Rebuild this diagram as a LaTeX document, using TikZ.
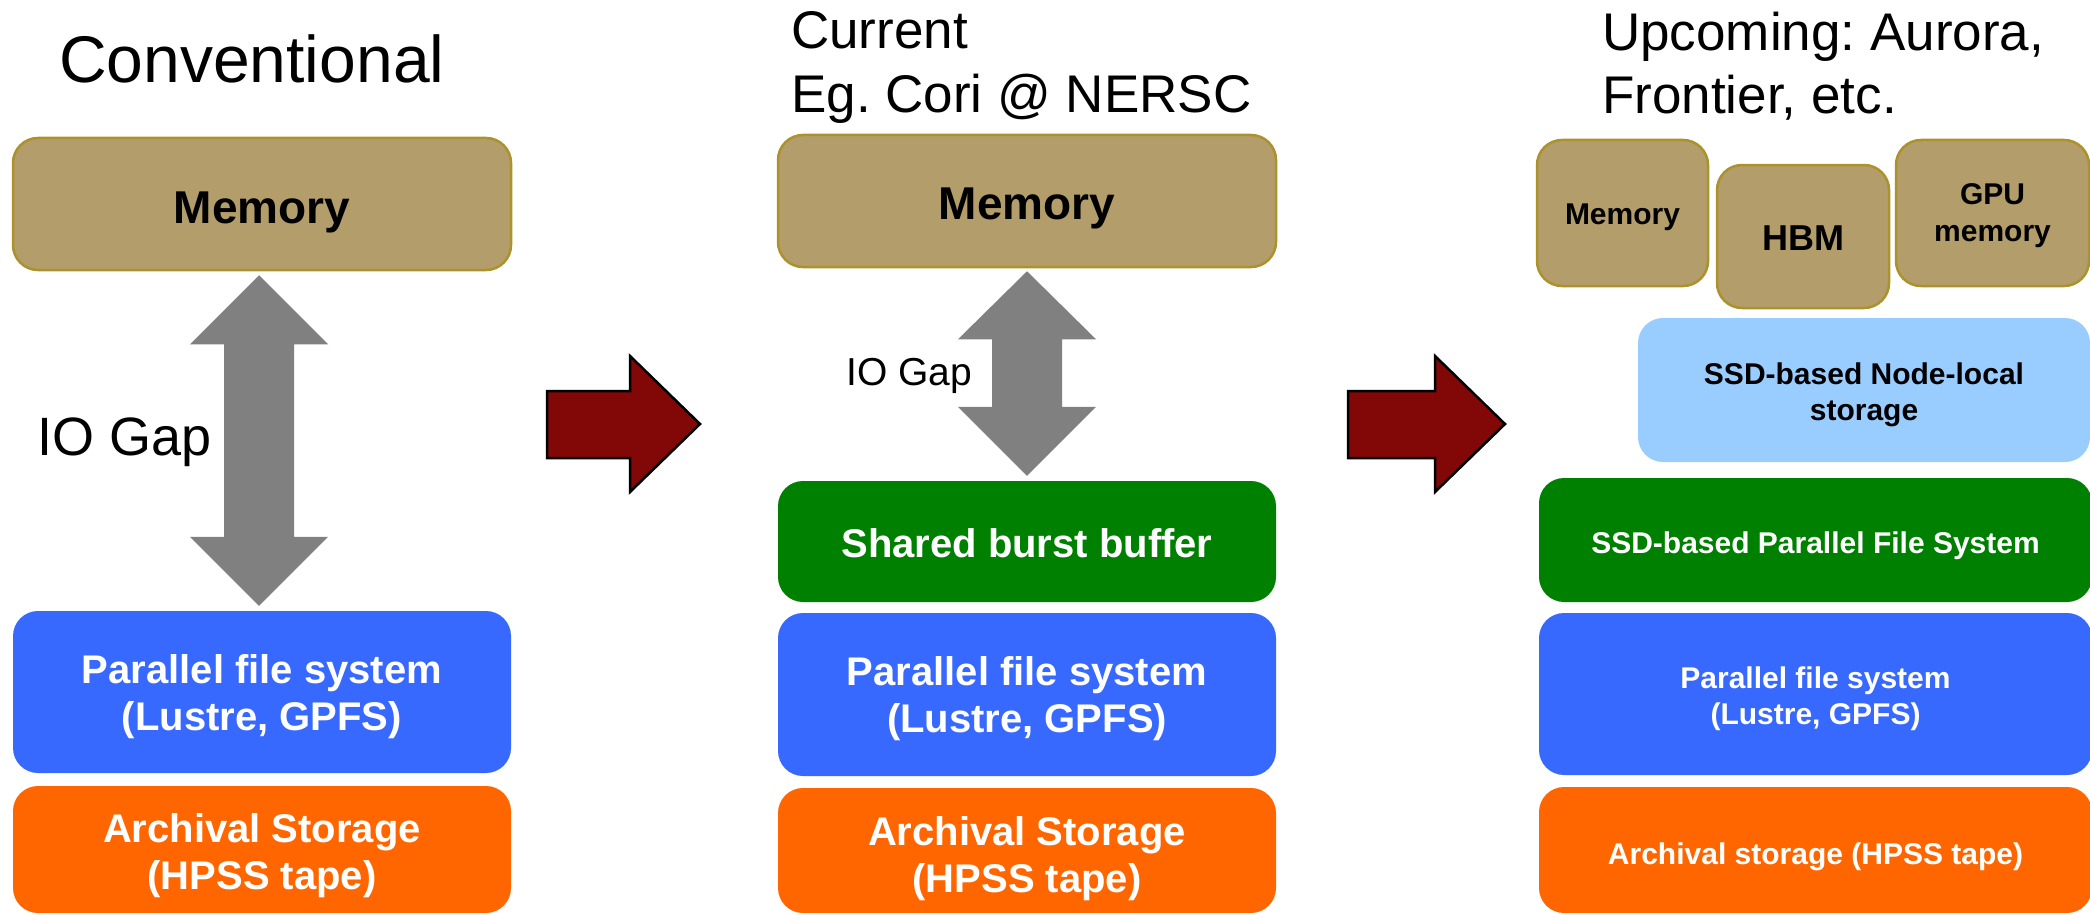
\documentclass[tikz,border=0pt]{standalone}
\usepackage{fontspec}
\setmainfont{Liberation Sans}
\usetikzlibrary{calc}
\frenchspacing

\definecolor{memfill}{RGB}{179,158,107}
\definecolor{memline}{RGB}{172,146,44}
\definecolor{bbgreen}{RGB}{0,128,0}
\definecolor{pfsblue}{RGB}{56,105,255}
\definecolor{tapeorange}{RGB}{255,102,0}
\definecolor{nodelocal}{RGB}{153,204,255}
\definecolor{gapgray}{RGB}{128,128,128}
\definecolor{stepred}{RGB}{130,8,8}

\begin{document}
\begin{tikzpicture}[x=1pt,y=-1pt,
  tier/.style={rectangle, rounded corners=25pt, inner sep=0pt, minimum width=498pt},
  memtier/.style={tier, fill=memfill, draw=memline, line width=2.5pt},
  bbtier/.style={tier, fill=bbgreen},
  pfstier/.style={tier, fill=pfsblue},
  tapetier/.style={tier, fill=tapeorange},
  nltier/.style={tier, fill=nodelocal},
  wlbl/.style={inner sep=0pt, align=center, text=white, font=\bfseries\fontsize{40}{47}\selectfont},
  wsmall/.style={inner sep=0pt, align=center, text=white, font=\bfseries\fontsize{30}{36}\selectfont},
  dsmall/.style={inner sep=0pt, align=center, text=black, font=\bfseries\fontsize{30}{36}\selectfont},
  memlbl/.style={inner sep=0pt, text=black, font=\bfseries\fontsize{46}{52}\selectfont, anchor=base},
  heading/.style={inner sep=0pt, align=left, text=black},
  gaplbl/.style={inner sep=0pt, text=black, anchor=base west},
  ioarrow/.style={fill=gapgray},
  stepshape/.style={fill=stepred, draw=black, line width=2.5pt, line join=miter},
]
% page frame
\useasboundingbox (0,0) rectangle (2090,915);
\fill[white] (0,0) rectangle (2090,915);
\clip (0,0) rectangle (2090,915);

% ---------------- conventional ----------------
\node[heading, font=\fontsize{66}{76}\selectfont, anchor=base west] (t1) at (59,83) {Conventional};

\node[memtier, minimum height=132pt] (mem1) at (262,204) {};
\node[memlbl] (mem1t) at ($(mem1.center)+(0,19)$) {Memory};

\node[pfstier, minimum height=162pt] (pfs1) at (262,692) {};
\node[wlbl] (pfs1t) at ($(pfs1.center)+(0,5)$) {Parallel file system\\(Lustre, GPFS)};

\node[tapetier, minimum height=127pt] (arc1) at (262,849.5) {};
\node[wlbl] (arc1t) at ($(arc1.center)+(0,6.6)$) {Archival Storage\\(HPSS tape)};

\coordinate (g1t) at ($(mem1.south)+(-3,4)$);
\coordinate (g1b) at ($(pfs1.north)+(-3,-5)$);
\fill[ioarrow] (g1t) -- ($(g1t)+(69,69)$) -- ($(g1t)+(35,69)$) -- ($(g1b)+(35,-69)$)
  -- ($(g1b)+(69,-69)$) -- (g1b) -- ($(g1b)+(-69,-69)$) -- ($(g1b)+(-35,-69)$)
  -- ($(g1t)+(-35,69)$) -- ($(g1t)+(-69,69)$) -- cycle;
\node[gaplbl, font=\fontsize{54}{60}\selectfont] (gap1) at (37,455) {IO Gap};

% step arrow 1
\coordinate (s1) at (700,424);
\draw[stepshape] (s1) -- ($(s1)+(-70,68)$) -- ($(s1)+(-70,34)$) -- ($(s1)+(-153,34)$)
  -- ($(s1)+(-153,-33)$) -- ($(s1)+(-70,-33)$) -- ($(s1)+(-70,-68)$) -- cycle;

% ---------------- current ----------------
\node[heading, font=\fontsize{53}{64}\selectfont, anchor=north west] (t2) at (791,11) {Current\\Eg. Cori @ NERSC};

\node[memtier, minimum height=132pt] (mem2) at (1027,201) {};
\node[memlbl] (mem2t) at ($(mem2.center)+(0,18)$) {Memory};

\node[bbtier, minimum height=121pt] (sbb) at (1027,541.5) {};
\node[wlbl, anchor=base] (sbbt) at ($(sbb.center)+(0,15.5)$) {Shared burst buffer};

\node[pfstier, minimum height=163pt] (pfs2) at (1027,694.5) {};
\node[wlbl] (pfs2t) at ($(pfs2.center)+(0,4.6)$) {Parallel file system\\(Lustre, GPFS)};

\node[tapetier, minimum height=125pt] (arc2) at (1027,850.5) {};
\node[wlbl] (arc2t) at ($(arc2.center)+(0,8.6)$) {Archival Storage\\(HPSS tape)};

\coordinate (g2t) at ($(mem2.south)+(0,3)$);
\coordinate (g2b) at ($(sbb.north)+(0,-5)$);
\fill[ioarrow] (g2t) -- ($(g2t)+(69,68)$) -- ($(g2t)+(35,68)$) -- ($(g2b)+(35,-69)$)
  -- ($(g2b)+(69,-69)$) -- (g2b) -- ($(g2b)+(-69,-69)$) -- ($(g2b)+(-35,-69)$)
  -- ($(g2t)+(-35,68)$) -- ($(g2t)+(-69,68)$) -- cycle;
\node[gaplbl, font=\fontsize{39}{45}\selectfont] (gap2) at (846,385) {IO Gap};

% step arrow 2
\coordinate (s2) at (1505,424);
\draw[stepshape] (s2) -- ($(s2)+(-70,68)$) -- ($(s2)+(-70,34)$) -- ($(s2)+(-157,34)$)
  -- ($(s2)+(-157,-33)$) -- ($(s2)+(-70,-33)$) -- ($(s2)+(-70,-68)$) -- cycle;

% ---------------- upcoming ----------------
\node[heading, font=\fontsize{53}{63}\selectfont, anchor=north west] (t3) at (1602,12) {Upcoming: Aurora,\\Frontier, etc.};

\node[memtier, minimum width=171pt, minimum height=146pt] (mem3) at (1622.5,213) {};
\node[dsmall, anchor=base] (mem3t) at ($(mem3.center)+(0,11)$) {Memory};

\node[memtier, minimum width=172pt, minimum height=143pt] (hbm) at (1803,236.5) {};
\node[dsmall, anchor=base, font=\bfseries\fontsize{36}{42}\selectfont] (hbmt) at ($(hbm.center)+(0,13.5)$) {HBM};

\node[memtier, minimum width=193pt, minimum height=146pt] (gpu) at (1992.5,213) {};
\node[dsmall, font=\bfseries\fontsize{30}{37}\selectfont] (gput) at ($(gpu.center)+(0,2.7)$) {GPU\\memory};

\node[nltier, minimum width=452pt, minimum height=144pt] (ssdl) at (1864,390) {};
\node[dsmall] (ssdlt) at ($(ssdl.center)+(0,5.2)$) {SSD-based Node-local\\storage};

\node[bbtier, minimum width=553pt, minimum height=124pt] (ssdp) at (1815.5,540) {};
\node[wsmall, anchor=base] (ssdpt) at ($(ssdp.center)+(0,13)$) {SSD-based Parallel File System};

\node[pfstier, minimum width=553pt, minimum height=162pt] (pfs3) at (1815.5,694) {};
\node[wsmall] (pfs3t) at ($(pfs3.center)+(0,5.2)$) {Parallel file system\\(Lustre, GPFS)};

\node[tapetier, minimum width=553pt, minimum height=126pt] (arc3) at (1815.5,850) {};
\node[wsmall, anchor=base] (arc3t) at ($(arc3.center)+(0,14)$) {Archival storage (HPSS tape)};

\end{tikzpicture}
\end{document}
